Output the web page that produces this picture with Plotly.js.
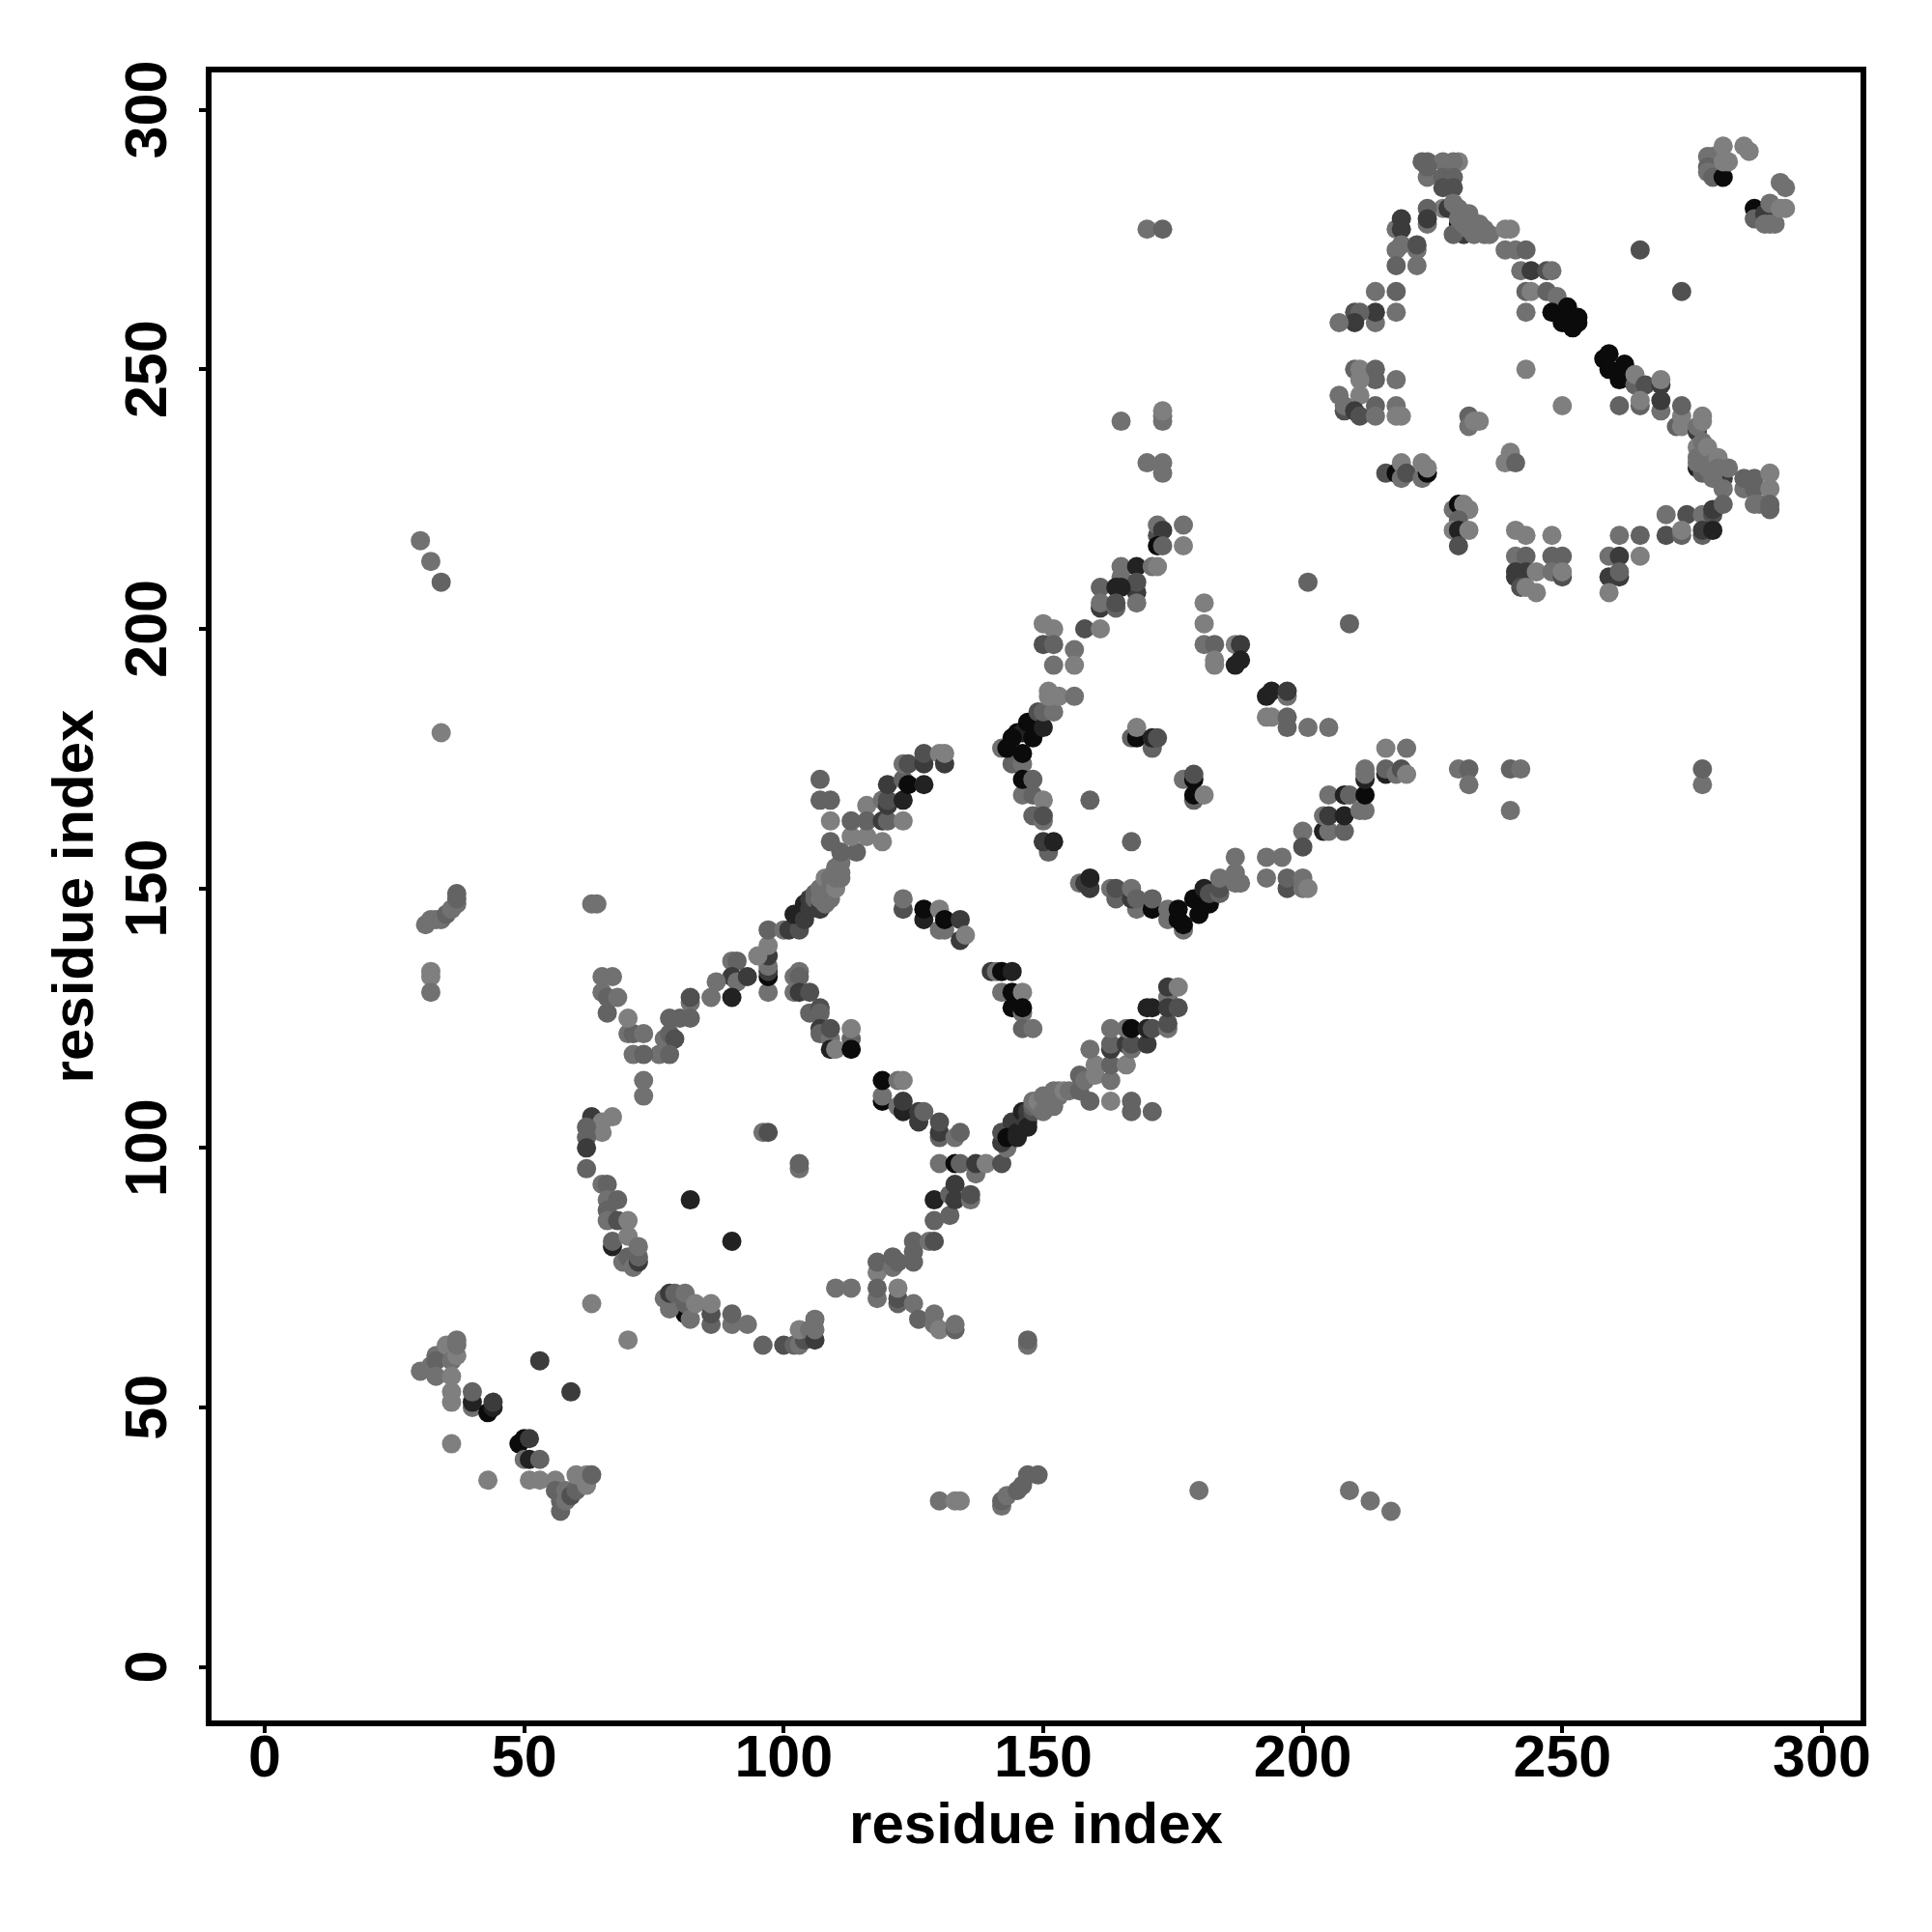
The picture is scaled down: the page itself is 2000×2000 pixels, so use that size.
<!DOCTYPE html>
<html>
<head>
<meta charset="utf-8">
<script src="https://cdn.plot.ly/plotly-3.0.1.min.js"></script>
<style>html,body{margin:0;padding:0;background:#fff}</style>
</head>
<body>
<div id="chart" style="width:2000px;height:2000px"></div>
<script>
// Each contact: [residue x, residue y, strength level 1 (weak) .. 7 (strong)]
const leftStrays = [[30,217,2],[32,213,2],[34,209,3],[34,180,1],[32,134,1],[32,133,1],[32,130,2],[31,143,2],[32,144,2],[33,144,2],[34,144,2],[35,145,3],[36,146,2],[37,147,2],[37,148,3],[37,149,3],[63,147,2],[64,147,2]];
const bottomStrays = [[130,32,2],[133,32,1],[134,32,1],[142,31,2],[142,32,3],[143,33,2],[145,34,3],[146,35,3],[147,37,3],[149,37,3],[180,34,2],[209,34,2],[213,32,2],[217,30,2],[147,62,2],[147,63,3]];
const rightStrays = [[230,173,2],[232,173,3],[232,170,2],[240,173,3],[242,173,2],[240,165,2],[277,170,2],[277,173,3],[170,277,2],[173,277,3],[165,240,2],[173,240,2],[173,241,2],[173,242,1],[170,232,2],[173,232,2],[173,230,2]];
const termA = [[30,57,2],[32,58,2],[33,60,2],[33,59,3],[33,56,2],[35,62,1],[36,59,2],[37,60,1],[36,56,1],[37,62,2],[37,63,2],[36,53,1],[36,51,1],[40,50,2],[40,51,6],[40,53,3],[43,49,7],[44,50,6],[44,51,5],[36,43,1],[43,36,1],[53,59,5],[59,53,5],[63,70,1],[70,63,1]];
const termB = [[49,43,7],[50,44,7],[50,40,2],[51,44,5],[51,40,6],[53,40,3],[51,36,1],[53,36,1],[56,36,1],[57,30,3],[56,34,3],[57,32,3],[58,32,2],[58,34,2],[59,33,4],[60,34,3],[60,37,1],[62,35,1],[62,37,1],[63,37,3]];
const ringBottomLeft = [[81,68,7],[77,71,2],[78,69,2],[78,72,5],[79,72,3],[81,70,3],[82,67,2],[81,72,2],[83,70,1],[86,66,3],[86,68,4],[86,70,1],[90,66,2],[90,68,3],[93,66,2],[96,62,3],[100,62,4],[102,62,3],[103,62,2],[104,63,4],[103,65,1],[105,65,2],[106,63,5],[106,65,2],[106,67,2],[110,73,2],[113,73,2]];
const ringLeft = [[63,106,5],[67,106,1],[65,105,1],[65,103,1],[62,104,3],[62,102,3],[62,100,5],[62,96,3],[65,93,2],[66,93,3],[66,90,2],[66,88,3],[68,90,3],[66,86,2],[68,86,4],[70,86,1],[67,81,6],[67,82,3],[69,78,2],[70,79,3],[70,83,1],[71,77,2],[72,78,5],[72,79,3],[72,81,2],[82,90,6],[90,82,6],[96,103,2],[97,103,4],[103,96,2],[103,97,3]];
const ringTop = [[97,130,2],[97,133,7],[97,134,5],[97,135,2],[97,137,5],[97,139,1],[97,142,3],[95,137,1],[90,136,2],[91,136,3],[90,133,5],[91,132,2],[93,133,5],[90,129,6],[87,132,2],[86,129,2],[82,128,2],[82,129,4],[82,125,3],[78,125,3],[80,125,3],[77,121,2],[78,122,3],[79,121,4],[76,118,2],[78,118,3],[71,118,2],[73,118,3],[73,113,2],[73,110,2],[70,122,2],[71,122,3],[73,122,2],[70,125,1],[66,126,3],[65,130,2],[66,129,3],[68,129,2],[65,133,2],[67,133,2]];
const innerA = [[102,133,2],[103,134,2],[103,133,3],[102,130,2],[103,130,5],[105,130,4],[105,126,3],[107,127,4],[107,126,3],[107,123,5],[107,122,3],[109,121,2],[109,123,4],[109,119,6],[110,119,1],[113,121,3],[113,123,1],[113,119,7],[119,109,7],[119,110,2],[119,113,7],[122,113,2],[123,113,1],[122,108,2],[123,107,6],[123,109,5],[126,105,5],[126,107,5],[127,107,3],[130,102,3],[130,103,5],[130,105,4],[133,102,2],[134,103,3]];
const ringBottomRight = [[118,76,1],[118,78,3],[121,77,2],[121,79,3],[122,78,3],[125,78,3],[125,80,3],[125,82,3],[128,82,2],[129,82,4],[129,86,3],[132,87,3],[129,90,6],[132,91,3],[133,90,5],[133,93,5],[136,90,2],[136,91,4],[130,97,2],[133,97,7],[134,97,3],[137,95,2],[137,97,5],[139,97,1],[142,97,4],[118,71,2],[118,73,3],[122,70,3],[122,71,4],[122,73,1],[125,70,2],[126,67,3],[129,66,2],[129,68,2],[130,65,1],[133,65,3],[133,66,2]];
const diagonalA = [[143,100,2],[142,101,5],[142,103,4],[144,105,5],[143,102,7],[145,103,6],[145,102,6],[146,106,5],[146,107,6],[147,105,5],[147,107,5],[147,104,6],[148,107,4],[148,108,3],[148,109,2],[149,108,2],[149,109,1],[150,107,2],[150,110,2],[151,109,2],[151,110,2],[152,108,2],[152,111,2],[153,110,2],[153,111,2],[154,111,1],[155,111,2],[157,111,3],[157,114,3],[158,113,2],[160,114,1],[160,116,1],[163,113,2],[159,119,2],[159,109,3],[163,109,1],[167,107,3],[167,109,3],[171,107,3],[163,116,3],[163,119,5],[163,120,3],[166,116,1],[166,120,5],[167,119,2],[167,120,4],[170,120,5],[163,123,2],[166,123,2],[167,123,7],[170,123,6],[171,123,4],[170,127,6],[171,127,6],[174,123,2],[174,124,4],[174,129,2],[174,127,5],[176,127,4],[174,131,5],[176,131,1]];
const innerB = [[140,134,5],[141,134,2],[142,134,7],[144,134,6],[142,130,2],[144,130,7],[146,130,1],[144,127,7],[146,126,2],[146,127,7],[146,123,3],[148,123,2]];
const diagonalB = [[100,142,2],[101,142,5],[103,142,4],[102,145,6],[104,144,5],[104,147,6],[105,146,5],[105,148,5],[106,148,3],[106,149,3],[107,146,5],[107,148,2],[107,150,2],[108,147,2],[108,149,2],[108,152,1],[109,148,2],[109,150,2],[109,152,2],[110,150,1],[110,152,2],[111,152,2],[111,153,2],[110,154,2],[111,155,2],[111,157,3],[114,157,3],[109,159,3],[113,160,1],[116,160,1],[119,159,1],[109,163,1],[113,163,3],[107,167,3],[109,167,3],[107,171,3],[116,166,1],[116,163,3],[119,163,5],[120,163,3],[123,163,1],[119,167,2],[120,166,5],[120,167,4],[123,167,6],[120,170,5],[123,171,3],[124,170,7],[127,170,6],[123,174,2],[124,174,4],[127,174,5],[127,176,4],[130,176,1],[131,174,5],[131,176,1]];
const innerC = [[123,146,4],[123,148,2],[127,144,6],[127,146,7],[130,142,2],[130,146,1],[131,142,2],[131,144,7],[134,140,5],[134,144,5],[135,141,1]];
const ringTwoLeft = [[142,177,2],[144,174,3],[146,174,2],[143,177,7],[145,180,7],[146,176,7],[146,180,6],[144,179,7],[147,182,7],[148,179,7],[149,184,4],[150,181,6],[150,184,3],[152,184,2],[150,201,1],[152,200,1],[150,197,4],[152,197,3],[156,196,2],[156,193,1],[152,193,2],[151,188,1],[151,187,1],[153,187,1],[156,187,2],[146,168,2],[146,171,7],[148,171,3],[148,168,3],[150,167,1],[148,164,3],[150,163,2],[150,164,4],[151,157,3],[150,159,5],[152,159,6],[159,167,3],[167,159,3]];
const ringTwoBottom = [[157,151,2],[158,151,5],[159,150,5],[159,152,6],[163,150,2],[164,148,3],[164,150,4],[168,146,2],[167,148,5],[167,150,2],[168,148,3],[171,146,7],[171,148,3],[174,144,2],[174,146,2],[177,142,2],[176,144,7],[176,146,7],[177,143,7],[179,148,7],[180,145,7],[181,150,6],[182,147,7],[182,149,4],[184,149,3],[184,150,4],[184,152,2],[187,151,2],[187,153,2],[187,156,2],[188,151,2],[193,152,2],[193,156,2],[196,156,2],[197,150,4],[197,152,3],[200,152,2],[200,150,2],[201,150,1]];
const ringTwoRight = [[200,161,2],[200,158,4],[204,161,6],[205,161,2],[208,161,3],[204,164,2],[205,164,5],[208,164,6],[205,168,2],[208,168,6],[209,168,3],[211,165,2],[212,165,2],[212,168,7],[212,171,6],[212,173,2],[212,172,2],[216,172,6],[216,173,3],[218,172,2],[219,173,4],[220,172,1],[216,177,1],[220,177,2]];
const ringTwoInner = [[167,179,3],[168,179,7],[168,181,1],[171,177,3],[171,179,6],[172,179,4],[177,171,2],[179,171,7],[179,172,4],[179,167,3],[179,168,7],[181,168,1]];
const ringTwoUpper = [[172,218,4],[172,220,2],[173,219,5],[177,220,2],[172,216,7],[173,216,3],[177,216,1],[165,210,2],[165,212,2],[168,212,6],[171,212,2],[172,212,1],[168,207,5],[168,209,4],[168,205,2],[161,208,3],[164,208,6],[165,208,6],[161,204,5],[161,205,2],[164,204,3],[164,205,4],[158,200,4],[161,200,1]];
const ringTwoOuter = [[181,205,1],[181,201,1],[181,197,2],[183,197,3],[183,194,1],[183,193,1],[187,197,1],[188,197,5],[188,194,6],[187,193,6],[193,187,6],[194,188,6],[197,187,2],[197,188,5],[193,183,1],[194,183,1],[197,181,3],[197,183,3],[201,181,2],[205,181,2],[201,209,3],[209,201,3]];
const lobeTop = [[223,290,3],[224,290,3],[227,290,2],[230,290,1],[229,290,2],[224,287,2],[224,289,3],[227,287,3],[229,287,3],[227,285,4],[229,285,4],[227,281,1],[224,281,3],[224,278,2],[224,279,5],[218,277,2],[219,277,5],[219,279,5],[218,273,2],[219,274,2],[222,273,2],[222,274,4],[218,270,3],[222,270,2],[214,265,2],[218,265,3],[218,261,2],[214,259,2],[214,261,5],[210,261,4],[211,261,3],[210,259,5],[207,259,2]];
const lobeDiagonal = [[228,281,5],[230,278,7],[231,276,5],[229,282,2],[230,281,2],[229,276,3],[230,279,2],[231,278,2],[232,280,2],[232,277,2],[233,276,2],[233,278,2],[234,278,2],[235,277,2],[235,276,2],[236,276,2],[239,277,1],[240,277,1],[239,273,2],[241,273,2],[243,273,3],[242,269,2],[244,269,5],[247,269,4],[248,269,2],[243,265,3],[244,265,1],[247,265,3],[249,264,2],[243,261,2],[248,261,7],[251,262,7],[250,259,7],[252,258,7],[253,260,7],[253,259,7]];
const lobeCorner = [[278,291,2],[279,291,2],[278,289,3],[278,288,2],[279,287,3],[281,287,7],[281,290,1],[282,290,1],[281,293,1],[285,293,1],[286,292,1],[292,286,2],[293,285,2],[287,281,7],[287,279,3],[289,280,5],[289,278,2],[290,278,2],[291,278,2],[290,282,2],[292,281,1],[293,281,1],[265,273,4],[273,265,4]];
const lobeDiagonalLow = [[258,252,7],[259,253,7],[259,250,7],[262,251,7],[261,248,7],[264,247,3],[264,249,1],[266,247,4],[269,247,5],[269,248,1],[243,250,1],[250,243,1],[261,243,3],[265,243,3],[265,244,1],[269,242,2],[269,244,5],[272,239,3],[273,239,1],[273,241,1],[273,243,3],[276,238,5],[276,231,6],[278,230,6],[281,229,5],[276,239,2],[277,240,1],[277,241,1],[276,235,1],[276,233,2],[277,230,3],[276,232,2],[277,236,2],[278,233,2],[278,231,2],[278,235,1],[279,232,2],[279,229,2],[280,233,1],[280,231,2],[282,231,2],[281,227,2],[285,227,2],[285,229,3],[287,227,3],[287,229,3],[290,230,1],[290,227,1],[288,224,2],[287,224,2],[290,223,3],[290,224,3]];
const lobeArcLow = [[270,222,2],[274,222,4],[277,222,2],[279,222,4],[279,223,5],[281,224,3],[270,218,4],[273,218,3],[273,219,1],[277,218,3],[277,219,5],[279,219,6],[259,214,2],[261,214,5],[261,218,2],[265,218,3],[265,214,1],[259,210,5],[261,210,5],[261,211,3],[259,207,1]];
const lobeInner = [[210,250,3],[211,250,1],[214,250,3],[214,248,3],[211,248,1],[218,248,2],[207,245,2],[211,245,1],[208,242,4],[208,243,2],[210,242,5],[211,241,4],[214,243,3],[214,241,2],[218,243,2],[218,241,1],[219,241,1],[232,241,3],[232,239,2],[233,240,1],[234,240,1],[240,234,1],[239,232,1],[241,232,3],[216,230,4],[218,230,7],[219,232,1],[219,229,2],[220,230,4],[223,229,2],[224,230,7],[223,232,1],[224,231,1],[229,223,2],[230,224,7],[231,224,1],[232,223,1],[230,221,3],[229,219,1],[230,219,6],[232,219,1],[230,216,4],[241,219,1],[243,218,1],[248,218,1],[241,214,2],[243,214,3],[248,214,3],[250,214,3],[241,211,5],[241,210,5],[243,211,5],[245,211,1],[248,211,2],[250,210,4],[250,211,1],[242,208,4],[243,208,1],[245,207,1]];

const regions = [leftStrays, bottomStrays, rightStrays, termA, termB, ringBottomLeft, ringLeft, ringTop, innerA, ringBottomRight, diagonalA, innerB, diagonalB, innerC, ringTwoLeft, ringTwoBottom, ringTwoRight, ringTwoInner, ringTwoUpper, ringTwoOuter, lobeTop, lobeDiagonal, lobeCorner, lobeDiagonalLow, lobeArcLow, lobeInner];
const tickValues = [0, 50, 100, 150, 200, 250, 300];
const greys = {1:'#7f7f7f',2:'#717171',3:'#636363',4:'#505050',5:'#3b3b3b',6:'#222222',7:'#0b0b0b'};

const all = regions.flat();
const axisCommon = {
  tickmode: 'array', tickvals: tickValues, ticktext: tickValues.map(String),
  ticks: 'outside', ticklen: 7, tickwidth: 4, tickcolor: '#000',
  showline: true, mirror: true, linecolor: '#000', linewidth: 6,
  showgrid: false, zeroline: false,
  tickfont: {family: '"Liberation Sans", Arial, sans-serif', size: 61, color: '#000', weight: 700}
};
const titleFont = {family: '"Liberation Sans", Arial, sans-serif', size: 60, color: '#000', weight: 700};
Plotly.newPlot('chart', [{
  type: 'scatter', mode: 'markers',
  x: all.map(p => p[0]), y: all.map(p => p[1]),
  marker: {size: 20, color: all.map(p => greys[p[2]]), line: {width: 0}},
  hoverinfo: 'x+y'
}], {
  width: 2000, height: 2000, showlegend: false,
  paper_bgcolor: '#fff', plot_bgcolor: '#fff',
  margin: {l: 219, r: 74, t: 75, b: 219, pad: 0},
  xaxis: Object.assign({}, axisCommon, {range: [-10.24, 307.46], ticklabelstandoff: -28, title: {text: 'residue index', font: titleFont, standoff: 17}}),
  yaxis: Object.assign({}, axisCommon, {range: [-10.3, 307.2], tickangle: -90, ticklabelstandoff: 10, ticklabelshift: 9, title: {text: 'residue index', font: titleFont, standoff: 3}})
}, {staticPlot: true});
</script>
</body>
</html>
